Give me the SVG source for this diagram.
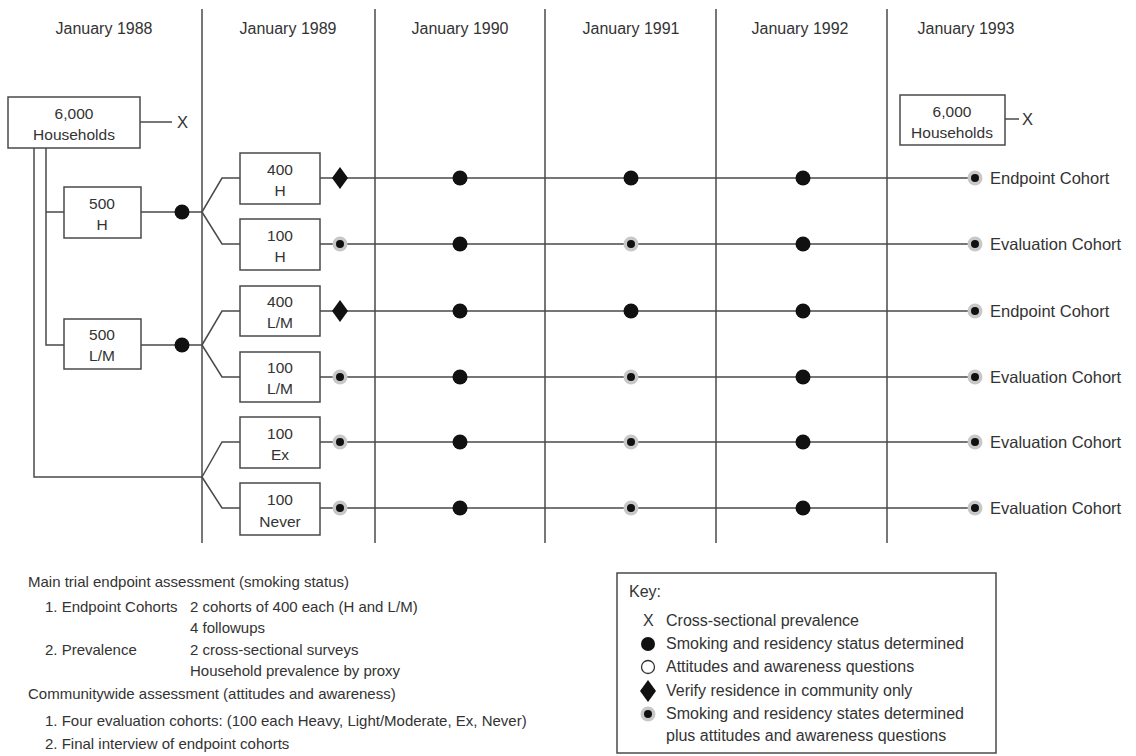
<svg xmlns="http://www.w3.org/2000/svg" width="1136" height="756" viewBox="0 0 1136 756">
<defs>
<style>
text{font-family:"Liberation Sans",Arial,sans-serif;fill:#333}
.h{font-size:16px;text-anchor:middle}
.b{font-size:15.5px;text-anchor:middle}
.l{font-size:16.5px}
.t{font-size:15px}
.k{font-size:16px}
.ln{stroke:#4a4a4a;stroke-width:1.5;fill:none}
.bx{stroke:#4a4a4a;stroke-width:1.5;fill:#fff}
.dot{fill:#111}
.halo{fill:#c8c8c8}
.core{fill:#111}
</style>
<g id="ringed"><circle class="halo" r="7.5"/><circle class="core" r="4"/></g>
<g id="bigdot"><circle class="dot" r="7.5"/></g>
<g id="diamond"><path class="dot" d="M0,-11 L8,0 L0,11 L-8,0 Z"/></g>
</defs>
<rect width="1136" height="756" fill="#fff"/>

<g id="columns">
<line class="ln" x1="202" y1="9" x2="202" y2="543"/>
<line class="ln" x1="375" y1="9" x2="375" y2="543"/>
<line class="ln" x1="545" y1="9" x2="545" y2="543"/>
<line class="ln" x1="716" y1="9" x2="716" y2="543"/>
<line class="ln" x1="887" y1="9" x2="887" y2="543"/>
<text class="h" x="104" y="34">January 1988</text>
<text class="h" x="288" y="34">January 1989</text>
<text class="h" x="460" y="34">January 1990</text>
<text class="h" x="631" y="34">January 1991</text>
<text class="h" x="800" y="34">January 1992</text>
<text class="h" x="966" y="34">January 1993</text>
</g>

<g id="connectors">
<path class="ln" d="M140,122 H172"/>
<path class="ln" d="M1005,119 H1019"/>
<path class="ln" d="M34,148 V477 H202"/>
<path class="ln" d="M46,148 V345 H64 M46,212 H64"/>
<path class="ln" d="M141,212 H202 M202,212 L222,178 H240 M202,212 L222,244 H240"/>
<path class="ln" d="M141,345 H202 M202,345 L222,311 H240 M202,345 L222,377 H240"/>
<path class="ln" d="M202,477 L222,442 H240 M202,477 L222,508 H240"/>
<path class="ln" d="M320,178 H975 M320,244 H975 M320,311 H975 M320,377 H975 M320,442 H975 M320,508 H975"/>
</g>

<g id="markers">
<use href="#bigdot" x="182" y="212"/>
<use href="#bigdot" x="182" y="345"/>
<use href="#diamond" x="340" y="178"/>
<use href="#bigdot" x="460" y="178"/>
<use href="#bigdot" x="631" y="178"/>
<use href="#bigdot" x="803" y="178"/>
<use href="#ringed" x="975" y="178"/>
<use href="#ringed" x="340" y="244"/>
<use href="#bigdot" x="460" y="244"/>
<use href="#ringed" x="631" y="244"/>
<use href="#bigdot" x="803" y="244"/>
<use href="#ringed" x="975" y="244"/>
<use href="#diamond" x="340" y="311"/>
<use href="#bigdot" x="460" y="311"/>
<use href="#bigdot" x="631" y="311"/>
<use href="#bigdot" x="803" y="311"/>
<use href="#ringed" x="975" y="311"/>
<use href="#ringed" x="340" y="377"/>
<use href="#bigdot" x="460" y="377"/>
<use href="#ringed" x="631" y="377"/>
<use href="#bigdot" x="803" y="377"/>
<use href="#ringed" x="975" y="377"/>
<use href="#ringed" x="340" y="442"/>
<use href="#bigdot" x="460" y="442"/>
<use href="#ringed" x="631" y="442"/>
<use href="#bigdot" x="803" y="442"/>
<use href="#ringed" x="975" y="442"/>
<use href="#ringed" x="340" y="508"/>
<use href="#bigdot" x="460" y="508"/>
<use href="#ringed" x="631" y="508"/>
<use href="#bigdot" x="803" y="508"/>
<use href="#ringed" x="975" y="508"/>
</g>

<g id="households1988">
<rect class="bx" x="8" y="97" width="132" height="51"/>
<text class="b" x="74" y="119">6,000</text>
<text class="b" x="74" y="140">Households</text>
<text class="l" x="177" y="128">X</text>
</g>
<g id="households1993">
<rect class="bx" x="900" y="95" width="105" height="50"/>
<text class="b" x="952" y="117">6,000</text>
<text class="b" x="952" y="138">Households</text>
<text class="l" x="1022" y="125">X</text>
</g>
<g id="n500H">
<rect class="bx" x="64" y="187" width="77" height="51"/>
<text class="b" x="102" y="209">500</text>
<text class="b" x="102" y="230">H</text>
</g>
<g id="n500LM">
<rect class="bx" x="64" y="319" width="77" height="50"/>
<text class="b" x="102" y="340">500</text>
<text class="b" x="102" y="361">L/M</text>
</g>
<g id="n400H">
<rect class="bx" x="240" y="153" width="80" height="51"/>
<text class="b" x="280" y="175">400</text>
<text class="b" x="280" y="196">H</text>
</g>
<g id="n100H">
<rect class="bx" x="240" y="219" width="80" height="51"/>
<text class="b" x="280" y="241">100</text>
<text class="b" x="280" y="262">H</text>
</g>
<g id="n400LM">
<rect class="bx" x="240" y="286" width="80" height="50"/>
<text class="b" x="280" y="307">400</text>
<text class="b" x="280" y="328">L/M</text>
</g>
<g id="n100LM">
<rect class="bx" x="240" y="352" width="80" height="50"/>
<text class="b" x="280" y="373">100</text>
<text class="b" x="280" y="394">L/M</text>
</g>
<g id="n100Ex">
<rect class="bx" x="240" y="417" width="80" height="51"/>
<text class="b" x="280" y="439">100</text>
<text class="b" x="280" y="460">Ex</text>
</g>
<g id="n100Never">
<rect class="bx" x="240" y="483" width="80" height="52"/>
<text class="b" x="280" y="505">100</text>
<text class="b" x="280" y="527">Never</text>
</g>

<g id="endlabels">
<text class="l" x="990" y="184">Endpoint Cohort</text>
<text class="l" x="990" y="250">Evaluation Cohort</text>
<text class="l" x="990" y="317">Endpoint Cohort</text>
<text class="l" x="990" y="383">Evaluation Cohort</text>
<text class="l" x="990" y="448">Evaluation Cohort</text>
<text class="l" x="990" y="514">Evaluation Cohort</text>
</g>

<g id="notes">
<text class="t" x="28" y="587">Main trial endpoint assessment (smoking status)</text>
<text class="t" x="45" y="612">1. Endpoint Cohorts</text>
<text class="t" x="190" y="612">2 cohorts of 400 each (H and L/M)</text>
<text class="t" x="190" y="633">4 followups</text>
<text class="t" x="45" y="655">2. Prevalence</text>
<text class="t" x="190" y="655">2 cross-sectional surveys</text>
<text class="t" x="190" y="676">Household prevalence by proxy</text>
<text class="t" x="28" y="699">Communitywide assessment (attitudes and awareness)</text>
<text class="t" x="45" y="726">1. Four evaluation cohorts:  (100 each Heavy, Light/Moderate, Ex, Never)</text>
<text class="t" x="45" y="749">2. Final interview of endpoint cohorts</text>
</g>

<g id="key">
<rect class="bx" x="617" y="573" width="379" height="180"/>
<text class="k" x="629" y="597">Key:</text>
<text class="k" x="643" y="626">X</text>
<text class="k" x="666" y="626">Cross-sectional prevalence</text>
<circle class="dot" cx="648" cy="644" r="7"/>
<text class="k" x="666" y="649">Smoking and residency status determined</text>
<circle cx="648" cy="667" r="6.5" fill="#fff" stroke="#333" stroke-width="1.3"/>
<text class="k" x="666" y="672">Attitudes and awareness questions</text>
<use href="#diamond" x="648" y="691"/>
<text class="k" x="666" y="696">Verify residence in community only</text>
<use href="#ringed" x="648" y="714"/>
<text class="k" x="666" y="719">Smoking and residency states determined</text>
<text class="k" x="666" y="741">plus attitudes and awareness questions</text>
</g>
</svg>
